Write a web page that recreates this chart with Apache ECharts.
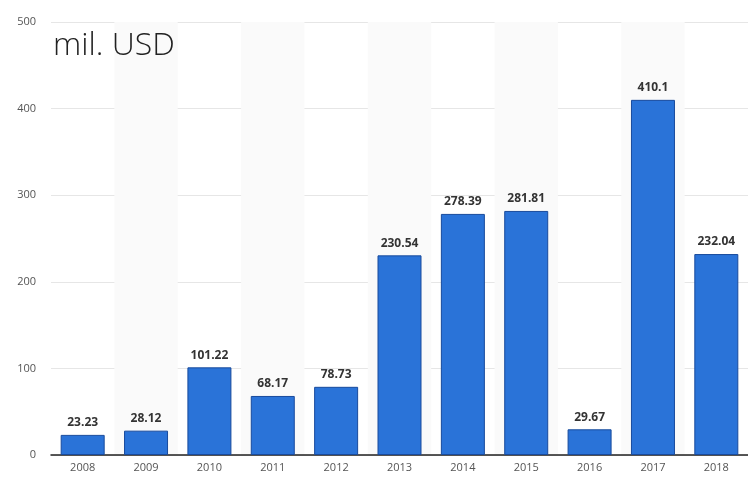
<!DOCTYPE html>
<html>
<head>
<meta charset="utf-8">
<script src="https://cdn.jsdelivr.net/npm/echarts@6/dist/echarts.min.js"></script>
<style>
  html, body { margin: 0; padding: 0; background: #fff; }
  #chart { width: 748px; height: 477px; }
</style>
</head>
<body>
<div id="chart"></div>
<script>
// Annual values in millions of USD
const years = ['2008', '2009', '2010', '2011', '2012', '2013', '2014', '2015', '2016', '2017', '2018'];
const values = [23.23, 28.12, 101.22, 68.17, 78.73, 230.54, 278.39, 281.81, 29.67, 410.1, 232.04];
const yTicks = [0, 100, 200, 300, 400, 500];

const chart = echarts.init(document.getElementById('chart'));
chart.setOption({
  animation: false,
  backgroundColor: '#fff',
  title: {
    text: 'mil. USD',
    left: 48,
    top: 25,
    textStyle: { fontFamily: 'Open Sans', fontWeight: 300, fontSize: 32, color: '#222' }
  },
  grid: { left: 51, right: 0, top: 22, bottom: 22 },
  xAxis: {
    type: 'category',
    data: years,
    axisLine: { lineStyle: { color: '#222', width: 1.5 } },
    axisTick: { show: false },
    axisLabel: { fontFamily: 'Open Sans', fontSize: 11, color: '#555', margin: 7 },
    splitArea: { show: true, areaStyle: { color: ['rgba(255,255,255,0)', '#fafafa'] } }
  },
  yAxis: {
    type: 'value',
    min: yTicks[0],
    max: yTicks[yTicks.length - 1],
    interval: 100,
    axisLine: { show: false },
    axisTick: { show: false },
    axisLabel: { fontFamily: 'Open Sans', fontSize: 11, color: '#555', margin: 15 },
    splitLine: { lineStyle: { color: '#e6e6e6', width: 1 } }
  },
  series: [{
    type: 'bar',
    data: values,
    barWidth: 44,
    itemStyle: { color: '#2a73d8', borderColor: '#184a9c', borderWidth: 1 },
    label: {
      show: true,
      position: 'top',
      distance: 6,
      fontFamily: 'Open Sans',
      fontWeight: 'bold',
      fontSize: 12,
      color: '#333',
      formatter: p => String(p.value)
    }
  }]
});
</script>
</body>
</html>
